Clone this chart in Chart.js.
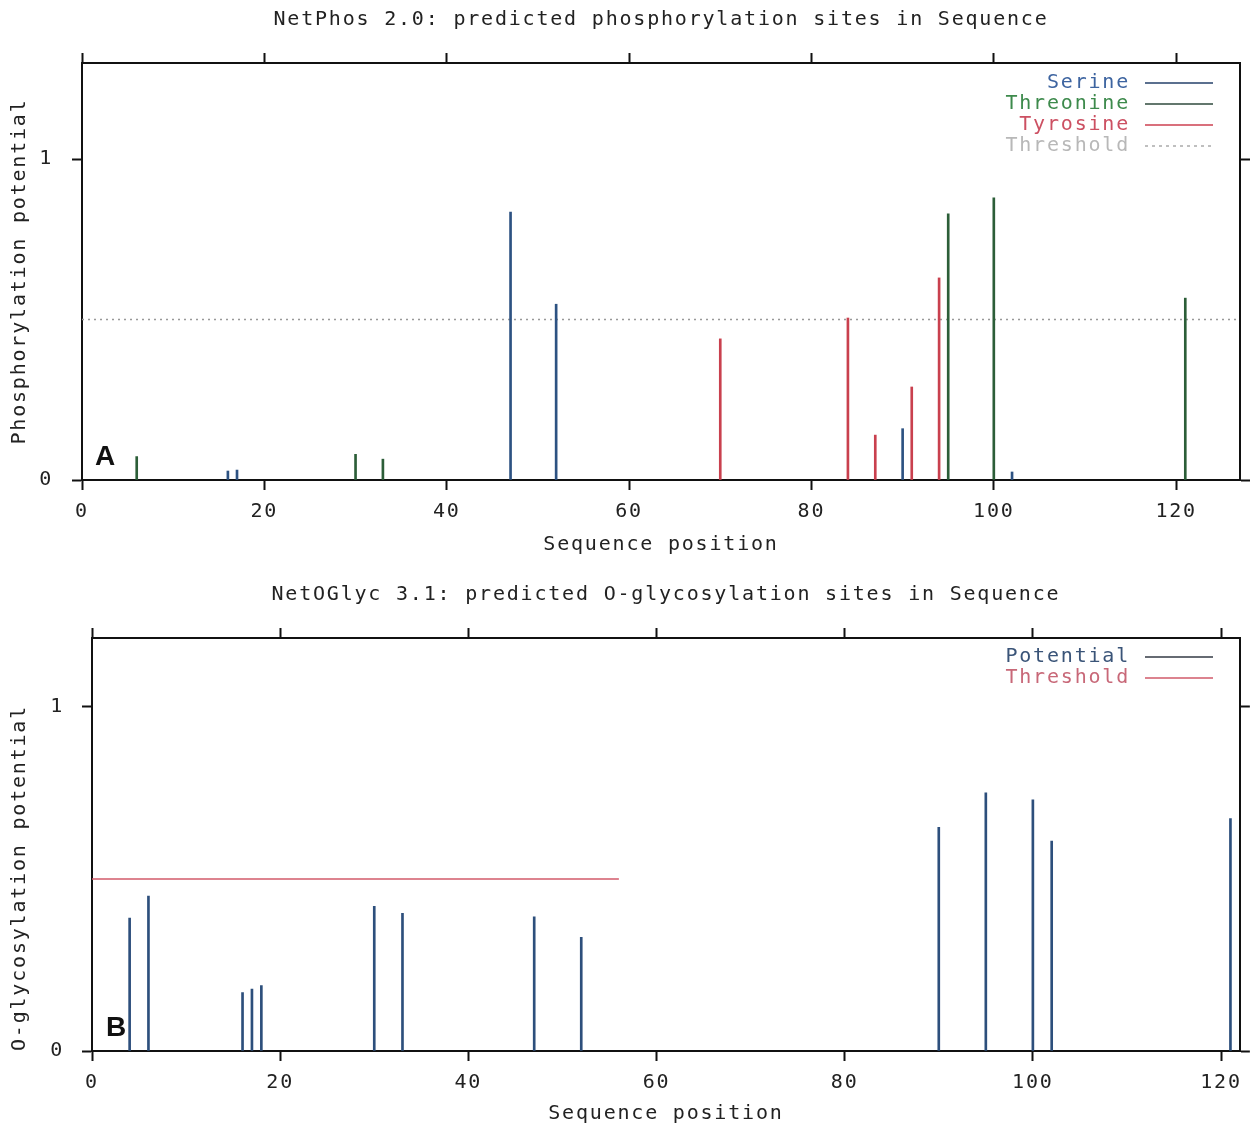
<!DOCTYPE html>
<html>
<head>
<meta charset="utf-8">
<script src="https://cdn.jsdelivr.net/npm/chart.js@4.4.1/dist/chart.umd.min.js"></script>
<style>
  html, body { margin: 0; padding: 0; background: #fff; }
  #wrapA { position: absolute; left: 0; top: 0; width: 1252px; height: 570px; }
  #wrapB { position: absolute; left: 0; top: 575px; width: 1252px; height: 552px; }
</style>
</head>
<body>
<div id="wrapA"><canvas id="phosChart"></canvas></div>
<div id="wrapB"><canvas id="glycChart"></canvas></div>
<script>
// tick labels
const xTicks = [0, 20, 40, 60, 80, 100, 120];
const yTicks = [0, 1];

// NetPhos (panel A)
const phosLength = 127;
const serinePos = [16, 17, 47, 52, 90, 102];
const serineVal = [0.028, 0.031, 0.835, 0.548, 0.16, 0.025];
const threoninePos = [6, 30, 33, 95, 100, 121];
const threonineVal = [0.073, 0.08, 0.065, 0.83, 0.88, 0.567];
const tyrosinePos = [70, 84, 87, 91, 94];
const tyrosineVal = [0.44, 0.505, 0.14, 0.29, 0.63];
const phosThreshold = 0.5;

// NetOGlyc (panel B)
const glycLength = 122;
const glycPos = [4, 6, 16, 17, 18, 30, 33, 47, 52, 90, 95, 100, 102, 121];
const glycVal = [0.386, 0.45, 0.17, 0.18, 0.19, 0.42, 0.40, 0.39, 0.33, 0.65, 0.75, 0.73, 0.61, 0.675];
const glycThreshold = 0.5;
const glycThresholdEnd = 56;

const monoFont = "'DejaVu Sans Mono', monospace";
const textSize = 20;

function toPoints(xs, ys) {
  return xs.map((x, i) => ({ x: x, y: ys[i] }));
}

// gnuplot-style wide spacing on all text
const wideText = {
  id: 'wideText',
  beforeLayout(chart) { chart.ctx.letterSpacing = '1.8px'; },
  beforeDraw(chart) { chart.ctx.letterSpacing = '1.8px'; }
};

// legend drawn inside the plot, text right-aligned with the line sample after it
const insideLegend = {
  id: 'insideLegend',
  afterDraw(chart, args, opts) {
    const ctx = chart.ctx;
    ctx.save();
    ctx.font = textSize + 'px ' + monoFont;
    ctx.textAlign = 'right';
    ctx.textBaseline = 'middle';
    opts.items.forEach((item, i) => {
      const y = opts.top + i * opts.rowGap;
      ctx.fillStyle = item.textColor;
      ctx.fillText(item.text, opts.textRight, y);
      ctx.strokeStyle = item.lineColor;
      ctx.lineWidth = 1.5;
      ctx.setLineDash(item.dash || []);
      ctx.beginPath();
      ctx.moveTo(opts.lineStart, y);
      ctx.lineTo(opts.lineEnd, y);
      ctx.stroke();
    });
    ctx.restore();
  }
};

// big panel letter (A / B)
const panelLetter = {
  id: 'panelLetter',
  afterDraw(chart, args, opts) {
    const ctx = chart.ctx;
    ctx.save();
    ctx.letterSpacing = '0px';
    ctx.font = "bold 28px 'Liberation Sans', Arial, sans-serif";
    ctx.fillStyle = '#111';
    ctx.textAlign = 'center';
    ctx.textBaseline = 'middle';
    ctx.fillText(opts.text, opts.x, opts.y);
    ctx.restore();
  }
};

const axisGrid = {
  display: true,
  offset: false,
  drawOnChartArea: false,
  drawTicks: true,
  tickLength: 10,
  tickWidth: 2,
  tickColor: '#111'
};
const axisBorder = { display: true, color: '#111', width: 2 };

function buildScales(cfg) {
  return {
    x: {
      type: 'linear',
      position: 'bottom',
      min: 0,
      max: cfg.xMax,
      offset: false,
      afterBuildTicks: (s) => { s.ticks = xTicks.map((v) => ({ value: v })); },
      afterFit: (s) => { s.height = cfg.bottomHeight; },
      grid: axisGrid,
      border: axisBorder,
      ticks: { color: '#222', padding: 10, font: { family: monoFont, size: textSize }, maxRotation: 0 },
      title: {
        display: true,
        text: 'Sequence position',
        color: '#222',
        font: { family: monoFont, size: textSize },
        padding: { top: 0, bottom: cfg.xTitlePad }
      }
    },
    x2: {
      type: 'linear',
      position: 'top',
      min: 0,
      max: cfg.xMax,
      offset: false,
      afterBuildTicks: (s) => { s.ticks = xTicks.map((v) => ({ value: v })); },
      afterFit: (s) => { s.height = 31; },
      grid: axisGrid,
      border: axisBorder,
      ticks: { display: false }
    },
    y: {
      type: 'linear',
      position: 'left',
      min: 0,
      max: cfg.yMax,
      afterBuildTicks: (s) => { s.ticks = yTicks.map((v) => ({ value: v })); },
      afterFit: (s) => { s.width = cfg.leftWidth; },
      grid: axisGrid,
      border: axisBorder,
      ticks: { color: '#222', padding: cfg.yTickPad, font: { family: monoFont, size: textSize } },
      title: {
        display: true,
        text: cfg.yTitle,
        align: cfg.yTitleAlign,
        color: '#222',
        font: { family: monoFont, size: textSize },
        padding: { top: 8, bottom: 0 }
      }
    },
    y2: {
      type: 'linear',
      position: 'right',
      min: 0,
      max: cfg.yMax,
      afterBuildTicks: (s) => { s.ticks = yTicks.map((v) => ({ value: v })); },
      afterFit: (s) => { s.width = 12; },
      grid: axisGrid,
      border: axisBorder,
      ticks: { display: false }
    }
  };
}

function titleOpts(text) {
  return {
    display: true,
    text: text,
    fullSize: false,
    color: '#222',
    font: { family: monoFont, size: textSize, weight: 'normal' },
    padding: { top: 8, bottom: 0 }
  };
}

// Panel A: NetPhos
new Chart(document.getElementById('phosChart').getContext('2d'), {
  type: 'bar',
  data: {
    datasets: [
      {
        label: 'Serine',
        data: toPoints(serinePos, serineVal),
        backgroundColor: '#2d5282',
        barThickness: 2,
        order: 1
      },
      {
        label: 'Threonine',
        data: toPoints(threoninePos, threonineVal),
        backgroundColor: '#2c5e38',
        barThickness: 2,
        order: 1
      },
      {
        label: 'Tyrosine',
        data: toPoints(tyrosinePos, tyrosineVal),
        backgroundColor: '#c9404e',
        barThickness: 2,
        order: 1
      },
      {
        type: 'line',
        label: 'Threshold',
        data: [{ x: 0, y: phosThreshold }, { x: phosLength, y: phosThreshold }],
        borderColor: '#999999',
        borderWidth: 1.5,
        borderDash: [2, 4],
        pointRadius: 0,
        order: 10
      }
    ]
  },
  options: {
    responsive: true,
    maintainAspectRatio: false,
    animation: false,
    events: [],
    datasets: { bar: { grouped: false } },
    layout: { padding: 0 },
    scales: buildScales({
      xMax: phosLength,
      yMax: 1.3,
      leftWidth: 82,
      bottomHeight: 90,
      xTitlePad: 13,
      yTickPad: 19,
      yTitle: 'Phosphorylation potential',
      yTitleAlign: 'center'
    }),
    plugins: {
      legend: { display: false },
      tooltip: { enabled: false },
      title: titleOpts('NetPhos 2.0: predicted phosphorylation sites in Sequence'),
      insideLegend: {
        top: 83,
        rowGap: 21,
        textRight: 1130,
        lineStart: 1145,
        lineEnd: 1213,
        items: [
          { text: 'Serine', textColor: '#3d64a0', lineColor: '#24406a' },
          { text: 'Threonine', textColor: '#3d8a4c', lineColor: '#2f4a3c' },
          { text: 'Tyrosine', textColor: '#cc5062', lineColor: '#cc4050' },
          { text: 'Threshold', textColor: '#b8b8b8', lineColor: '#aaaaaa', dash: [3, 4] }
        ]
      },
      panelLetter: { text: 'A', x: 105, y: 457 }
    }
  },
  plugins: [wideText, insideLegend, panelLetter]
});

// Panel B: NetOGlyc
new Chart(document.getElementById('glycChart').getContext('2d'), {
  type: 'bar',
  data: {
    datasets: [
      {
        label: 'Potential',
        data: toPoints(glycPos, glycVal),
        backgroundColor: '#2d4f7c',
        barThickness: 2,
        order: 1
      },
      {
        type: 'line',
        label: 'Threshold',
        data: [{ x: 0, y: glycThreshold }, { x: glycThresholdEnd, y: glycThreshold }],
        borderColor: '#d25a6a',
        borderWidth: 1.5,
        pointRadius: 0,
        order: 10
      }
    ]
  },
  options: {
    responsive: true,
    maintainAspectRatio: false,
    animation: false,
    events: [],
    datasets: { bar: { grouped: false } },
    layout: { padding: 0 },
    scales: buildScales({
      xMax: glycLength,
      yMax: 1.2,
      leftWidth: 92,
      bottomHeight: 76,
      xTitlePad: 1,
      yTickPad: 18,
      yTitle: 'O-glycosylation potential',
      yTitleAlign: 'start'
    }),
    plugins: {
      legend: { display: false },
      tooltip: { enabled: false },
      title: titleOpts('NetOGlyc 3.1: predicted O-glycosylation sites in Sequence'),
      insideLegend: {
        top: 82,
        rowGap: 21,
        textRight: 1130,
        lineStart: 1145,
        lineEnd: 1213,
        items: [
          { text: 'Potential', textColor: '#3a5478', lineColor: '#333a44' },
          { text: 'Threshold', textColor: '#c86878', lineColor: '#d05a6a' }
        ]
      },
      panelLetter: { text: 'B', x: 116, y: 453 }
    }
  },
  plugins: [wideText, insideLegend, panelLetter]
});
</script>
</body>
</html>
